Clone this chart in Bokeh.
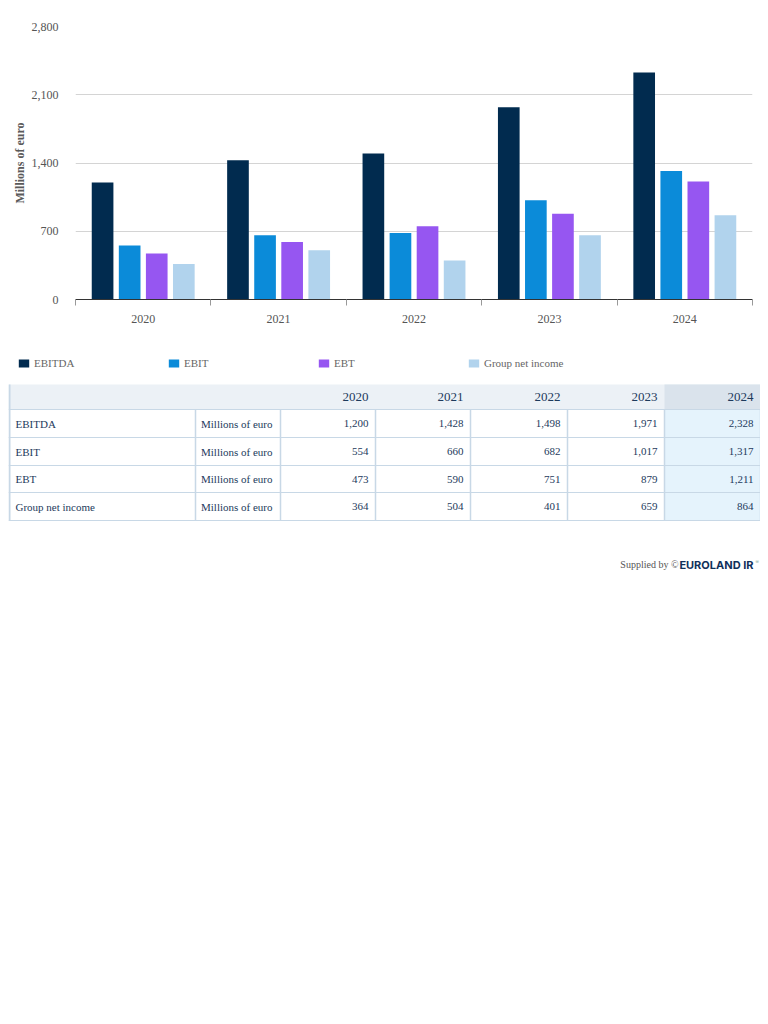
from bokeh.plotting import figure
from bokeh.models import (Range1d, FixedTicker, NumeralTickFormatter, ColumnDataSource,
                          Legend, LegendItem)
from bokeh.layouts import column
from bokeh.embed import file_html
from bokeh.resources import INLINE
from bokeh.core.properties import value
from bokeh.transform import dodge

# ---------------- data ----------------
years = ["2020", "2021", "2022", "2023", "2024"]
series_names = ["EBITDA", "EBIT", "EBT", "Group net income"]
ebitda = [1200, 1428, 1498, 1971, 2328]
ebit = [554, 660, 682, 1017, 1317]
ebt = [473, 590, 751, 879, 1211]
group_net_income = [364, 504, 401, 659, 864]
unit = "Millions of euro"
y_ticks = [0, 700, 1400, 2100, 2800]
colors = ["#012b4f", "#0b8bd9", "#9656f1", "#b1d3ed"]

all_series = [ebitda, ebit, ebt, group_net_income]

SERIF = "Liberation Serif"
NAVY = "#1d3a5c"
GRAY = "#555555"

# ---------------- chart ----------------
centers = [i + 0.5 for i in range(len(years))]
src = ColumnDataSource(dict(x=centers, EBITDA=ebitda, EBIT=ebit, EBT=ebt,
                            GNI=group_net_income))
cols = ["EBITDA", "EBIT", "EBT", "GNI"]
offsets = [-0.3, -0.1, 0.1, 0.3]

p = figure(width=752, height=340, x_range=Range1d(0, len(years)),
           y_range=Range1d(y_ticks[0], y_ticks[-1]),
           output_backend="svg", toolbar_location=None,
           min_border_left=67, min_border_right=8, min_border_top=18,
           min_border_bottom=49)
p.outline_line_color = None
p.background_fill_color = "white"
p.frame_align = False

for c, col, off in zip(cols, colors, offsets):
    p.vbar(x=dodge("x", off, range=p.x_range), top=c, width=0.16, source=src,
           fill_color=col, line_color=None)

xa = p.xaxis[0]
xa.ticker = FixedTicker(ticks=centers, minor_ticks=list(range(len(years) + 1)))
xa.major_label_overrides = {x: y for x, y in zip(centers, years)}
xa.major_tick_line_color = None
xa.major_tick_out = 0
xa.minor_tick_line_color = "#999999"
xa.minor_tick_out = 6
xa.minor_tick_in = 0
xa.axis_line_color = "#333333"
xa.major_label_standoff = 9
xa.major_label_text_font = SERIF
xa.major_label_text_font_size = "12px"
xa.major_label_text_color = GRAY

ya = p.yaxis[0]
ya.ticker = FixedTicker(ticks=y_ticks)
ya.formatter = NumeralTickFormatter(format="0,0")
ya.axis_line_color = None
ya.major_tick_line_color = None
ya.minor_tick_line_color = None
ya.major_tick_out = 0
ya.major_label_standoff = 17
ya.major_label_text_font = SERIF
ya.major_label_text_font_size = "12px"
ya.major_label_text_color = GRAY
ya.axis_label = unit
ya.axis_label_text_font = SERIF
ya.axis_label_text_font_size = "12px"
ya.axis_label_text_font_style = "bold"
ya.axis_label_text_color = "#5a5a5a"
ya.axis_label_standoff = 2

p.xgrid.visible = False
p.ygrid.grid_line_color = "#d4d4d4"

# ---------------- legend + table ----------------
H = 240
t = figure(width=752, height=H, x_range=Range1d(0, 752), y_range=Range1d(H, 0),
           output_backend="svg", toolbar_location=None, min_border=0,
           x_axis_type=None, y_axis_type=None)
t.outline_line_color = None
t.grid.visible = False
t.frame_align = False

items = []
for name, col in zip(series_names, colors):
    r = t.vbar(x=[-1000], top=[0], bottom=[0], width=1, fill_color=col,
               line_color=None)
    items.append(LegendItem(label=name, renderers=[r]))
leg = Legend(items=items, orientation="horizontal", location=(9, H - 21),
             label_text_font=SERIF, label_text_font_size="11px",
             label_text_color="#666666", glyph_width=13, glyph_height=10,
             label_standoff=4, label_width=133, label_height=12, spacing=0,
             padding=0, margin=0, border_line_color=None,
             background_fill_alpha=0)
t.add_layout(leg, "center")

col_edges = [0, 187, 272, 367, 462, 559, 656, 752]
row_edges = [36, 61, 89, 117, 144, 172]
last = col_edges[-2]

# backgrounds
t.quad(left=[0], right=[752], top=[row_edges[0]], bottom=[row_edges[1]],
       fill_color="#ecf1f6", line_color=None)
t.quad(left=[last], right=[752], top=[row_edges[0]], bottom=[row_edges[1]],
       fill_color="#dae3ec", line_color=None)
t.quad(left=[last], right=[752], top=[row_edges[1]], bottom=[row_edges[-1]],
       fill_color="#e5f3fc", line_color=None)

# borders
BORDER = "#c8d8e6"
t.segment(x0=[0] * 5, x1=[752] * 5, y0=row_edges[1:], y1=row_edges[1:],
          line_color=BORDER, line_width=1.2)
t.segment(x0=col_edges[1:], x1=col_edges[1:],
          y0=[row_edges[1]] * 7, y1=[row_edges[-1]] * 7,
          line_color=BORDER, line_width=1.5)
t.segment(x0=[1], x1=[1], y0=[row_edges[0]], y1=[row_edges[-1]],
          line_color=BORDER, line_width=2)

# header texts
hy = (row_edges[0] + row_edges[1]) / 2
t.text(x=[e - 7 for e in col_edges[3:]], y=[hy] * len(years), text=years,
       text_font=value(SERIF), text_font_size="13px", text_color=NAVY,
       text_align="right", text_baseline="middle")

# body texts
row_y = [(row_edges[i] + row_edges[i + 1]) / 2 for i in range(1, 5)]
t.text(x=[7] * 4, y=row_y, text=series_names, text_font=value(SERIF),
       text_font_size="11px", text_color=NAVY, text_align="left",
       text_baseline="middle")
t.text(x=[col_edges[2] - 8] * 4, y=row_y, text=[unit] * 4,
       text_font=value(SERIF), text_font_size="11px", text_color=NAVY,
       text_align="right", text_baseline="middle")
vx, vy, vt = [], [], []
for ri, vals in enumerate(all_series):
    for ci, v in enumerate(vals):
        vx.append(col_edges[ci + 3] - 7)
        vy.append(row_y[ri])
        vt.append(f"{v:,}")
t.text(x=vx, y=vy, text=vt, text_font=value(SERIF), text_font_size="11px",
       text_color=NAVY, text_align="right", text_baseline="middle")

# footer
t.text(x=[670], y=[216], text=["Supplied by \u00a9"], text_font=value(SERIF),
       text_font_size="10px", text_color="#555555", text_align="right",
       text_baseline="middle")
t.text(x=[745], y=[216], text=["EUROLAND IR"], text_font=value("Inter"),
       text_font_size="11px", text_font_style="bold", text_color="#10305a",
       text_align="right", text_baseline="middle")
t.text(x=[747], y=[213], text=["\u00ae"], text_font=value("Inter"),
       text_font_size="5px", text_color="#88aa99", text_align="left",
       text_baseline="middle")

layout = column(p, t, spacing=0, margin=(8, 8, 8, 8))
open("out.html", "w").write(file_html(layout, INLINE))
